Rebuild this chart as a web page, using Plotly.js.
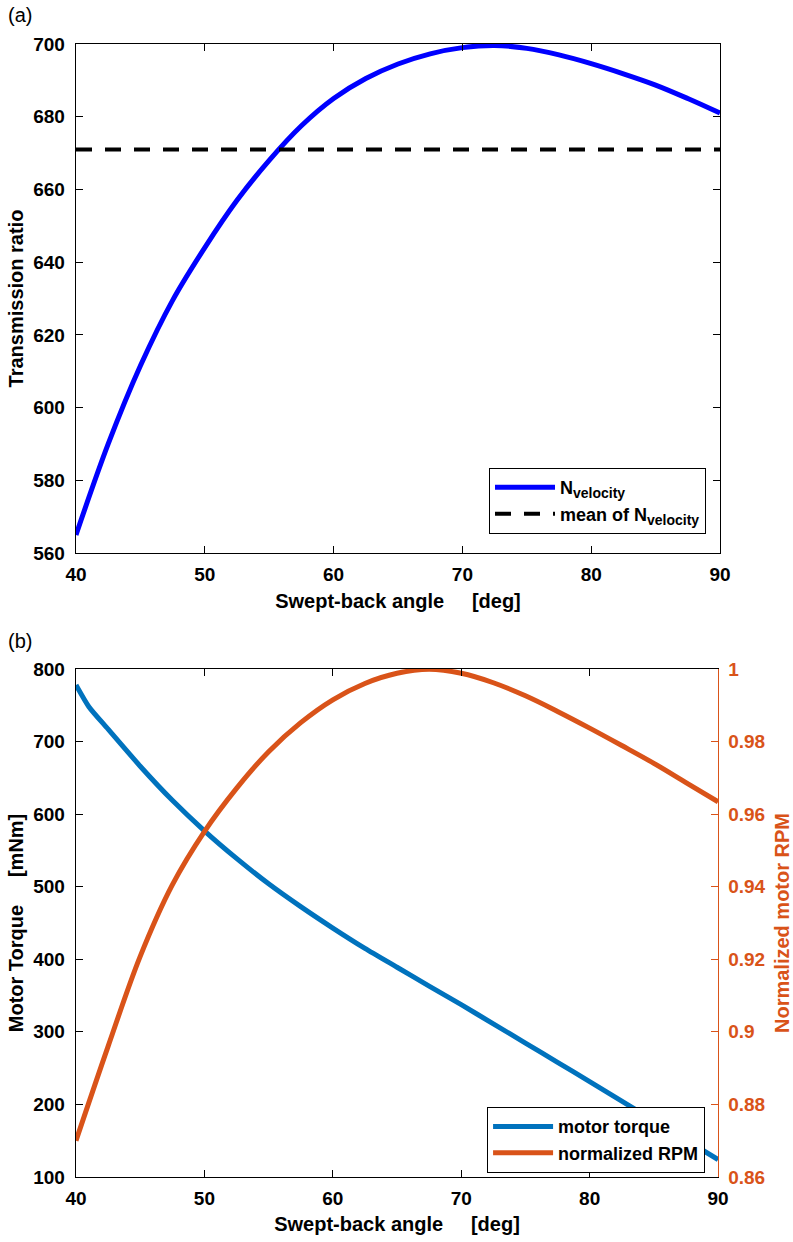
<!DOCTYPE html>
<html>
<head>
<meta charset="utf-8">
<script src="https://cdn.plot.ly/plotly-3.0.1.min.js"></script>
<style>
html,body{margin:0;padding:0;background:#fff;}
#chart{width:793px;height:1242px;}
</style>
</head>
<body>
<div id="chart"></div>
<script>
// ---- data ----
const angle = [40, 42.5, 45, 47.5, 50, 52.5, 55, 57.5, 60, 62.5, 65, 67.5, 70, 72.5, 75, 77.5, 80, 82.5, 85, 87.5, 90];
const nVelocity = [565, 590, 611.5, 629.5, 644, 657, 668, 677.5, 685, 690.5, 694.5, 697.3, 699, 699.6, 698.8, 697.0, 694.6, 691.8, 688.7, 685.0, 681];
const meanAngle = [40, 90];
const meanNVelocity = [671, 671];

const torqueAngle = [40, 41, 42.5, 45, 47.5, 50, 52.5, 55, 57.5, 60, 62.5, 65, 67.5, 70, 72.5, 75, 77.5, 80, 82.5, 85, 87.5, 90];
const motorTorque = [778, 748, 717, 666, 619, 577, 539, 504, 472.5, 443, 415, 389, 363, 337.5, 311, 284.5, 258, 231.5, 204.5, 177.5, 151, 124];
const normRPM = [0.870, 0.896, 0.9208, 0.9405, 0.9552, 0.9671, 0.9772, 0.9852, 0.9915, 0.9960, 0.9988, 0.9999, 0.9988, 0.9962, 0.9926, 0.9883, 0.9837, 0.9789, 0.974, 0.9687, 0.9634];

const xTicks = [40, 50, 60, 70, 80, 90];

// ---- styles ----
const FONT = 'Liberation Sans, Arial, sans-serif';
const ORANGE = '#D95319';
const BLUE2 = '#0072BD';
const tickFont = {family: FONT, size: 19, color: '#000', weight: 'bold'};
const titleFont = {family: FONT, size: 20, color: '#000', weight: 'bold'};
const gap = '\u00A0\u00A0\u00A0\u00A0\u00A0';
const sub = s => '<sub><span style="font-size:14px">' + s + '</span></sub>';

function xAxis(anchor, domain) {
  return {
    domain: domain, anchor: anchor, range: [40, 90],
    tickmode: 'array', tickvals: xTicks,
    ticks: 'inside', ticklen: 7, tickwidth: 1, tickcolor: '#000',
    showline: true, linecolor: '#000', linewidth: 1.3, mirror: 'ticks',
    showgrid: false, zeroline: false,
    tickfont: tickFont, ticklabelstandoff: 4,
    title: {text: 'Swept-back angle' + gap + '[deg]', font: titleFont, standoff: 9},
    automargin: false
  };
}

const traces = [
  {x: angle, y: nVelocity, xaxis: 'x', yaxis: 'y', mode: 'lines', name: 'N' + sub('velocity'),
   line: {color: '#0000FF', width: 5, shape: 'spline', smoothing: 1}, legend: 'legend'},
  {x: meanAngle, y: meanNVelocity, xaxis: 'x', yaxis: 'y', mode: 'lines', name: 'mean of N' + sub('velocity'),
   line: {color: '#000', width: 4, dash: '16px,13px'}, legend: 'legend'},
  {x: torqueAngle, y: motorTorque, xaxis: 'x2', yaxis: 'y2', mode: 'lines', name: 'motor torque',
   line: {color: BLUE2, width: 5, shape: 'spline', smoothing: 0.6}, legend: 'legend2'},
  {x: angle, y: normRPM, xaxis: 'x2', yaxis: 'y3', mode: 'lines', name: 'normalized RPM',
   line: {color: ORANGE, width: 5, shape: 'spline', smoothing: 1}, legend: 'legend2'}
];

const legendCommon = {
  xanchor: 'left', yanchor: 'top',
  bgcolor: '#fff', bordercolor: '#000', borderwidth: 1.2,
  font: {family: FONT, size: 18, color: '#000', weight: 'bold'},
  tracegroupgap: 0, itemwidth: 60
};

const layout = {
  width: 793, height: 1242,
  margin: {l: 76, r: 73, t: 44, b: 65},
  paper_bgcolor: '#fff', plot_bgcolor: '#fff',
  showlegend: true,
  xaxis: xAxis('y', [0, 1]),
  yaxis: {
    domain: [0.5507, 1], anchor: 'x', range: [560, 700], dtick: 20, tick0: 560,
    ticks: 'inside', ticklen: 7, tickwidth: 1, tickcolor: '#000',
    showline: true, linecolor: '#000', linewidth: 1.3, mirror: 'ticks',
    showgrid: false, zeroline: false, tickfont: tickFont, ticklabelstandoff: 6,
    title: {text: 'Transmission ratio', font: titleFont, standoff: 4}, automargin: false
  },
  xaxis2: xAxis('y2', [0, 0.997]),
  yaxis2: {
    domain: [0, 0.4484], anchor: 'x2', range: [100, 800], dtick: 100, tick0: 100,
    ticks: 'inside', ticklen: 7, tickwidth: 1, tickcolor: '#000',
    showline: true, linecolor: '#000', linewidth: 1.3, mirror: false,
    showgrid: false, zeroline: false, tickfont: tickFont, ticklabelstandoff: 6,
    title: {text: 'Motor Torque' + gap + '[mNm]', font: titleFont, standoff: 4}, automargin: false
  },
  yaxis3: {
    overlaying: 'y2', side: 'right', anchor: 'x2', range: [0.86, 1], dtick: 0.02, tick0: 0.86,
    ticks: 'inside', ticklen: 7, tickwidth: 1, tickcolor: ORANGE,
    showline: true, linecolor: ORANGE, linewidth: 1.3,
    showgrid: false, zeroline: false,
    tickfont: {family: FONT, size: 19, color: ORANGE, weight: 'bold'}, ticklabelstandoff: 5,
    title: {text: 'Normalized motor RPM', font: {family: FONT, size: 20, color: ORANGE, weight: 'bold'}, standoff: 19},
    automargin: false
  },
  legend: Object.assign({}, legendCommon, {x: 0.641, y: 0.6258}),
  legend2: Object.assign({}, legendCommon, {x: 0.638, y: 0.0618}),
  annotations: [
    {text: '(a)', xref: 'paper', yref: 'paper', x: -0.109, y: 1.0256, xanchor: 'left', yanchor: 'middle',
     showarrow: false, font: {family: FONT, size: 20, color: '#000'}},
    {text: '(b)', xref: 'paper', yref: 'paper', x: -0.109, y: 0.4731, xanchor: 'left', yanchor: 'middle',
     showarrow: false, font: {family: FONT, size: 20, color: '#000'}}
  ]
};

Plotly.newPlot('chart', traces, layout, {staticPlot: true, displayModeBar: false});
</script>
</body>
</html>
